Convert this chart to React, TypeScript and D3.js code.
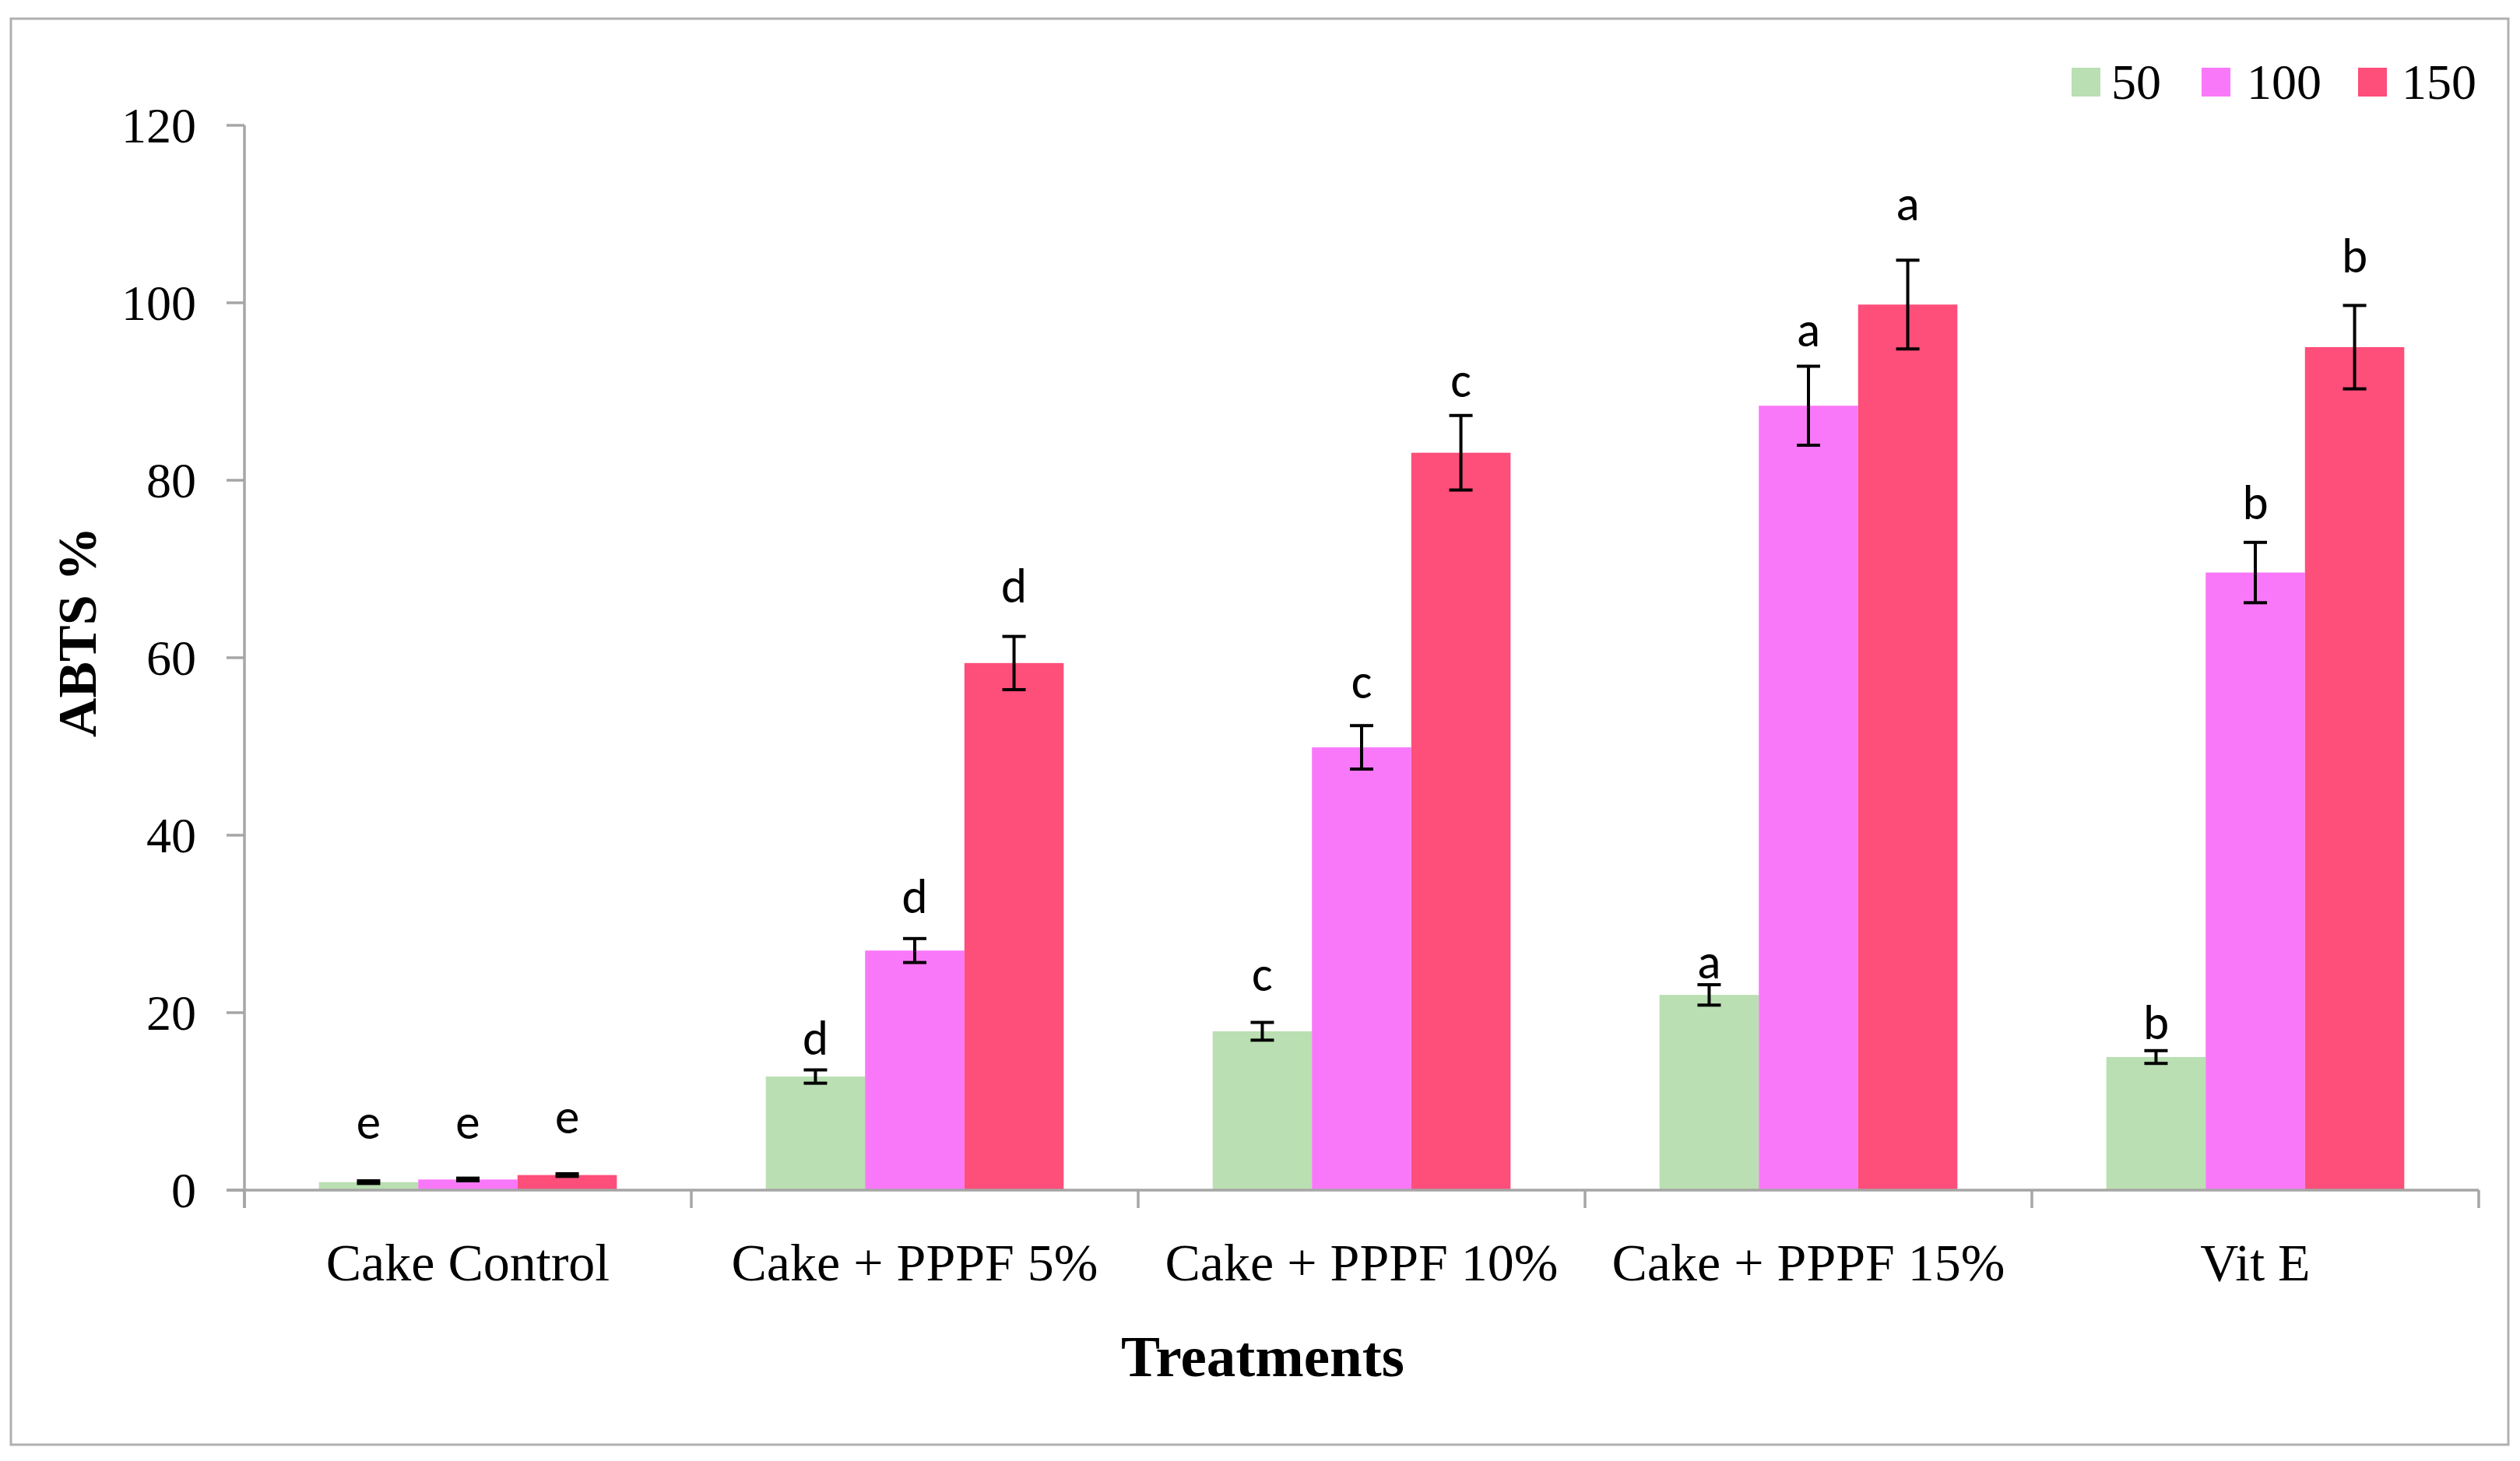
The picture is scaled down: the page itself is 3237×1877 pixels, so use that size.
import React from "react";
import * as d3 from "d3";

const categories = ["Cake Control", "Cake + PPPF 5%", "Cake + PPPF 10%", "Cake + PPPF 15%", "Vit E"];
const seriesNames = ["50", "100", "150"];
const seriesColors = ["#BADFB2", "#F978F9", "#FE4E7A"];

const values50 = [0.9, 12.8, 17.9, 22.0, 15.0];
const values100 = [1.2, 27.0, 49.9, 88.4, 69.6];
const values150 = [1.7, 59.4, 83.1, 99.8, 95.0];

const err50 = [0.15, 0.75, 1.0, 1.15, 0.72];
const err100 = [0.15, 1.35, 2.45, 4.45, 3.4];
const err150 = [0.15, 3.0, 4.2, 5.0, 4.7];

const letters50 = ["e", "d", "c", "a", "b"];
const letters100 = ["e", "d", "c", "a", "b"];
const letters150 = ["e", "d", "c", "a", "b"];

// baseline of the significance letters, in data units
const letterY50 = [5.8, 15.3, 22.5, 23.9, 17.0];
const letterY100 = [5.8, 31.2, 55.4, 95.1, 75.6];
const letterY150 = [6.4, 66.2, 89.4, 109.3, 103.4];

const yTicks = [0, 20, 40, 60, 80, 100, 120];

const W = 3237;
const H = 1877;

export default function App() {
  const values = [values50, values100, values150];
  const errs = [err50, err100, err150];
  const letters = [letters50, letters100, letters150];
  const letterYs = [letterY50, letterY100, letterY150];

  const x0 = d3.scaleBand<string>().domain(categories).range([314, 3184]).padding(0);
  const x1 = d3
    .scaleBand<string>()
    .domain(seriesNames)
    .range([0, x0.bandwidth()])
    .paddingInner(0)
    .paddingOuter(0.75);
  const y = d3.scaleLinear().domain([0, 120]).range([1529, 161]);

  const serif = "'Palatino Linotype', 'Book Antiqua', Palatino, 'Liberation Serif', serif";
  const sans = "Calibri, Carlito, Lato, 'Open Sans', sans-serif";
  const axisColor = "#A6A6A6";

  const boundaries = [...categories.map((c) => x0(c) as number), (x0(categories[categories.length - 1]) as number) + x0.bandwidth()];

  const legendItems = [
    { sq: 2661, tx: 2712 },
    { sq: 2828, tx: 2886 },
    { sq: 3029, tx: 3085 },
  ];

  return (
    <svg
      width={W}
      height={H}
      style={{ position: "absolute", left: 0, top: 0, background: "#fff" }}
      xmlns="http://www.w3.org/2000/svg"
    >
      <rect x={0} y={0} width={W} height={H} fill="#fff" />
      {/* outer frame */}
      <rect x={14} y={24} width={3208} height={1832} fill="none" stroke="#B0B0B0" strokeWidth={3} />

      {/* bars */}
      {categories.map((c, ci) =>
        seriesNames.map((s, si) => {
          const bx = (x0(c) as number) + (x1(s) as number);
          const v = values[si][ci];
          return (
            <rect
              key={`b-${ci}-${si}`}
              x={bx}
              y={y(v)}
              width={x1.bandwidth()}
              height={y(0) - y(v)}
              fill={seriesColors[si]}
            />
          );
        })
      )}

      {/* axes */}
      <line x1={314} x2={314} y1={y(120)} y2={1552} stroke={axisColor} strokeWidth={3.5} />
      <line x1={291} x2={3184} y1={y(0)} y2={y(0)} stroke={axisColor} strokeWidth={3.5} />
      {yTicks.map((t) => (
        <g key={`yt-${t}`}>
          <line x1={291} x2={314} y1={y(t)} y2={y(t)} stroke={axisColor} strokeWidth={3.5} />
          <text
            x={252}
            y={y(t)}
            dy="0.35em"
            textAnchor="end"
            fontFamily={serif}
            fontSize={64}
            fill="#000"
          >
            {t}
          </text>
        </g>
      ))}
      {boundaries.map((bx, i) => (
        <line key={`xt-${i}`} x1={bx} x2={bx} y1={y(0)} y2={1552} stroke={axisColor} strokeWidth={3.5} />
      ))}
      {categories.map((c) => (
        <text
          key={`cl-${c}`}
          x={(x0(c) as number) + x0.bandwidth() / 2}
          y={1621}
          dy="0.35em"
          textAnchor="middle"
          fontFamily={serif}
          fontSize={68}
          fill="#000"
        >
          {c}
        </text>
      ))}

      {/* error bars */}
      {categories.map((c, ci) =>
        seriesNames.map((s, si) => {
          const cx = (x0(c) as number) + (x1(s) as number) + x1.bandwidth() / 2;
          const v = values[si][ci];
          const e = errs[si][ci];
          const top = y(v + e);
          const bot = y(v - e);
          return (
            <g key={`e-${ci}-${si}`} stroke="#000" strokeWidth={4}>
              <line x1={cx} x2={cx} y1={top} y2={bot} />
              <line x1={cx - 15} x2={cx + 15} y1={top} y2={top} />
              <line x1={cx - 15} x2={cx + 15} y1={bot} y2={bot} />
            </g>
          );
        })
      )}

      {/* significance letters */}
      {categories.map((c, ci) =>
        seriesNames.map((s, si) => {
          const cx = (x0(c) as number) + (x1(s) as number) + x1.bandwidth() / 2;
          return (
            <text
              key={`l-${ci}-${si}`}
              x={cx}
              y={y(letterYs[si][ci])}
              textAnchor="middle"
              fontFamily={sans}
              fontSize={63}
              fill="#000"
            >
              {letters[si][ci]}
            </text>
          );
        })
      )}

      {/* axis titles */}
      <text
        x={1622}
        y={1742}
        dy="0.35em"
        textAnchor="middle"
        fontFamily={serif}
        fontWeight="bold"
        fontSize={75}
        fill="#000"
      >
        Treatments
      </text>
      <text
        transform={`translate(98, 812) rotate(-90)`}
        dy="0.35em"
        textAnchor="middle"
        fontFamily={serif}
        fontWeight="bold"
        fontSize={70}
        fill="#000"
      >
        ABTS %
      </text>

      {/* legend */}
      {seriesNames.map((s, si) => (
        <g key={`lg-${s}`}>
          <rect x={legendItems[si].sq} y={87} width={37} height={37} fill={seriesColors[si]} />
          <text
            x={legendItems[si].tx}
            y={105}
            dy="0.35em"
            fontFamily={serif}
            fontSize={64}
            fill="#000"
          >
            {s}
          </text>
        </g>
      ))}
    </svg>
  );
}
